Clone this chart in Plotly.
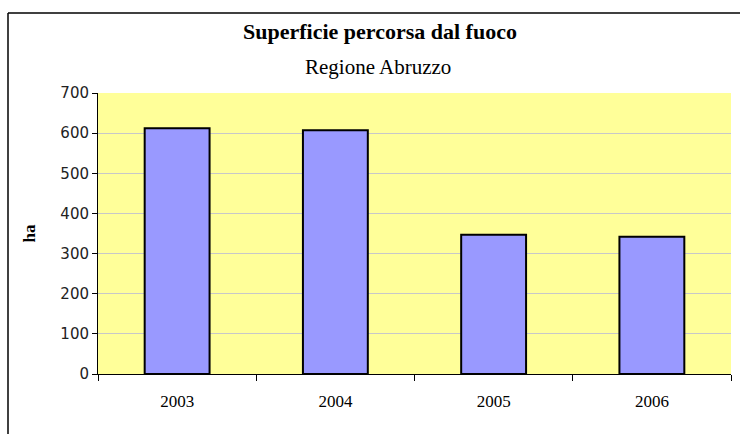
import plotly.graph_objects as go

years = ["2003", "2004", "2005", "2006"]
area_ha = [612, 607, 347, 342]
y_ticks = [0, 100, 200, 300, 400, 500, 600, 700]

W, H = 740, 434
L, R, T, B = 98, 9, 93, 60
pw, ph = W - L - R, H - T - B

def px_x(x):
    return (x - L) / pw

def px_y(y):
    return (H - B - y) / ph

fig = go.Figure()
fig.add_trace(go.Bar(
    x=years, y=area_ha,
    marker=dict(color="#9999FF", line=dict(color="black", width=2)),
    width=0.41,
))

fig.update_layout(
    width=W, height=H,
    margin=dict(l=L, r=R, t=T, b=B, autoexpand=False),
    paper_bgcolor="white",
    plot_bgcolor="#FFFF99",
    showlegend=False,
    xaxis=dict(
        type="category",
        automargin=False,
        tickson="boundaries",
        ticks="outside", ticklen=6, tickcolor="black",
        showline=True, linecolor="black", linewidth=1,
        showgrid=False,
        tickfont=dict(family="Liberation Serif", size=17, color="black"),
        ticklabelstandoff=12,
    ),
    yaxis=dict(
        range=[0, 700],
        automargin=False,
        tickvals=y_ticks,
        ticks="outside", ticklen=5, tickcolor="black",
        showline=True, linecolor="black", linewidth=1,
        showgrid=True, gridcolor="#C8C8C8", gridwidth=1,
        zeroline=False,
        tickfont=dict(family="DejaVu Sans", size=15, color="#222222"),
        title=dict(text="<b>ha</b>", font=dict(family="Liberation Serif", size=17, color="black"), standoff=20),
    ),
    annotations=[
        dict(text="<b>Superficie percorsa dal fuoco</b>", x=px_x(380), y=px_y(31),
             xref="paper", yref="paper", showarrow=False, xanchor="center", yanchor="middle",
             font=dict(family="Liberation Serif", size=22, color="black")),
        dict(text="Regione Abruzzo", x=px_x(378), y=px_y(67),
             xref="paper", yref="paper", showarrow=False, xanchor="center", yanchor="middle",
             font=dict(family="Liberation Serif", size=21, color="black")),
    ],
    shapes=[
        dict(type="line", xref="paper", yref="paper", x0=px_x(8), x1=px_x(745), y0=px_y(13), y1=px_y(13),
             line=dict(color="black", width=1.5)),
        dict(type="line", xref="paper", yref="paper", x0=px_x(8), x1=px_x(8), y0=px_y(13), y1=px_y(440),
             line=dict(color="black", width=1.5)),
    ],
)

fig.write_html(
    "out.html",
    config={"displayModeBar": False},
    post_script="document.body.style.margin='0';document.body.style.overflow='hidden';",
)
